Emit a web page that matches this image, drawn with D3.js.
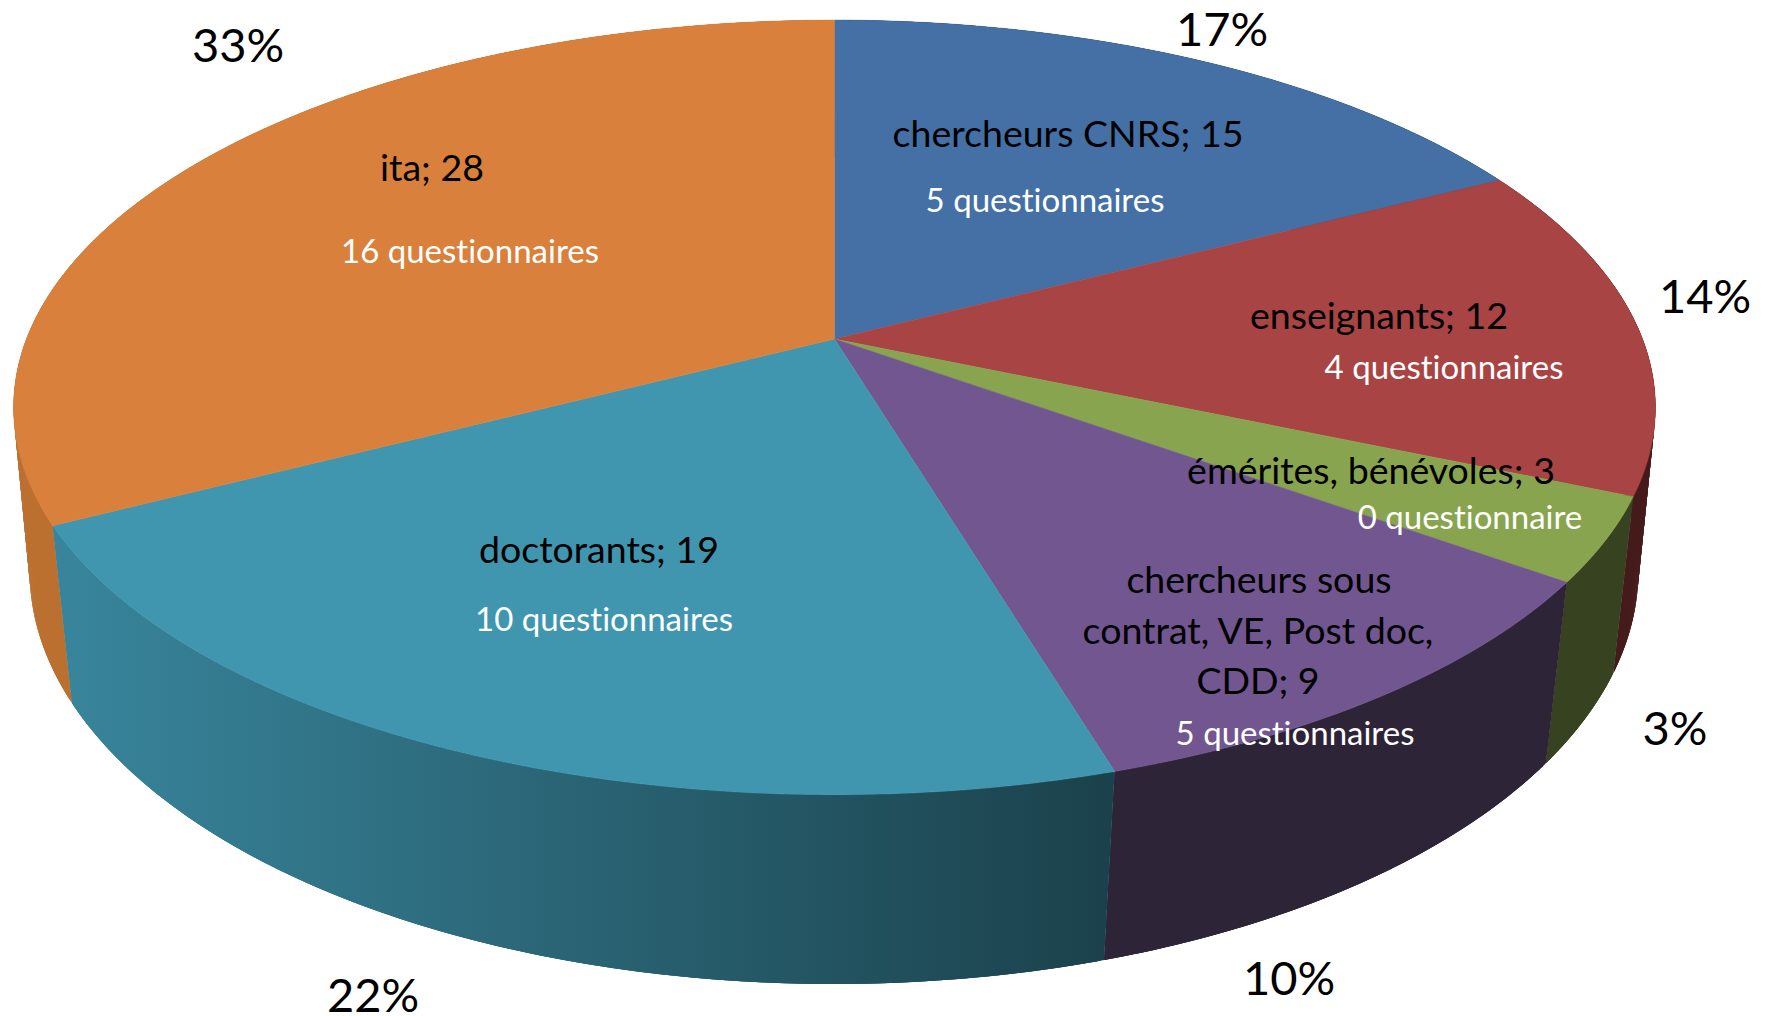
<!DOCTYPE html>
<html><head><meta charset="utf-8">
<style>html,body{margin:0;padding:0;background:#fff;overflow:hidden}svg{display:block}text{font-family:Lato,"Open Sans",sans-serif;text-anchor:middle;font-variant-ligatures:none}</style>
<script src="https://cdn.jsdelivr.net/npm/d3@7"></script></head>
<body><svg id="c" width="1773" height="1016"></svg>
<script>
// Data, clockwise from 12 o'clock
const categories = ["chercheurs CNRS","enseignants","émérites, bénévoles","chercheurs sous contrat, VE, Post doc, CDD","doctorants","ita"];
const values = [15,12,3,9,19,28];
const questionnaires = ["5 questionnaires","4 questionnaires","0 questionnaire","5 questionnaires","10 questionnaires","16 questionnaires"];
const percents = ["17%","14%","3%","10%","22%","33%"];
const topColors = ["#4470a5","#a84444","#88a44e","#715690","#4096ae","#d9813c"];
const sideColors = [["#2a4466","#2a4466"],["#451a1a","#451a1a"],["#374220","#374220"],["#2e2438","#2e2438"],["#38849b","#1b424c"],["#bb7030","#bb7030"]];

// Layout only (kept apart from the data)
const nameLines = [["chercheurs CNRS; "],["enseignants; "],["émérites, bénévoles; "],["chercheurs sous","contrat, VE, Post doc,","CDD; "]];
const namePos = [[[1068,147]],[[1379,329]],[[1371,484]],[[1259,593],[1258,644],[1258,694]],[[599,563]],[[432,181]]];
const subPos = [[1045,212],[1444,379],[1470,529],[1295,745],[604,631],[470,263]];
const pctPos = [[1222,46],[1705,313],[1675,745],[1289,995],[373,1012],[238,62]];
const topPlane = {cx:834.5,cy:339,A:808,B:375.2,k:0.1766};
const lowPlane = {cx:834,cy:504.7,A:794,B:402.6,k:0.16};

const project = (p,t)=>{const d=1+p.k*Math.cos(t);return [p.cx+p.A*Math.sin(t)/d,p.cy-p.B*Math.cos(t)/d];};
const arcs = d3.pie().sort(null).value(d=>d)(values);
const svg = d3.select("#c");
const defs = svg.append("defs");
const line = d3.line();
const stepsOf = a=>{const n=Math.ceil((a.endAngle-a.startAngle)/0.004);return d3.range(n+1).map(i=>a.startAngle+(a.endAngle-a.startAngle)*i/n);};

// Walls, painted back to front, shaded along x; overlapping strips leave no seams
const wallOrder = [0,5,1,2,3,4];
const wallG = svg.append("g");
wallOrder.forEach(i=>{
  const ts=stepsOf(arcs[i]);
  const ex=d3.extent(ts,t=>project(lowPlane,t)[0]);
  const grad=defs.append("linearGradient").attr("id","w"+i).attr("gradientUnits","userSpaceOnUse")
    .attr("x1",ex[0]).attr("x2",ex[1]).attr("y1",0).attr("y2",0);
  grad.append("stop").attr("offset",0).attr("stop-color",sideColors[i][0]);
  grad.append("stop").attr("offset",1).attr("stop-color",sideColors[i][1]);
  const strips=d3.range(ts.length-1).map(j=>[ts[j],ts[Math.min(j+3,ts.length-1)]]);
  wallG.append("g").selectAll("path").data(strips).join("path")
    .attr("d",([t0,t1])=>line([project(topPlane,t0),project(topPlane,t1),project(lowPlane,t1),project(lowPlane,t0)])+"Z")
    .attr("fill",`url(#w${i})`);
});

// Top face
svg.append("g").selectAll("path").data(arcs).join("path")
  .attr("d",a=>line([[topPlane.cx,topPlane.cy],...stepsOf(a).map(t=>project(topPlane,t))])+"Z")
  .attr("fill",(a,i)=>topColors[i]).attr("stroke",(a,i)=>topColors[i]).attr("stroke-width",0.5);

// Labels
const nameFs=37.5, subFs=33, pctFs=47;
const g=svg.append("g");
categories.forEach((c,i)=>{
  const lines = nameLines[i] ? nameLines[i].slice() : [c+"; "];
  lines[lines.length-1]+=values[i];
  lines.forEach((l,j)=>g.append("text").attr("x",namePos[i][j][0]).attr("y",namePos[i][j][1]).attr("font-size",nameFs).attr("fill","#000").text(l));
  g.append("text").attr("x",subPos[i][0]).attr("y",subPos[i][1]).attr("font-size",subFs).attr("fill","#fff").text(questionnaires[i]);
  g.append("text").attr("x",pctPos[i][0]).attr("y",pctPos[i][1]).attr("font-size",pctFs).attr("fill","#000").text(percents[i]);
});
</script></body></html>
